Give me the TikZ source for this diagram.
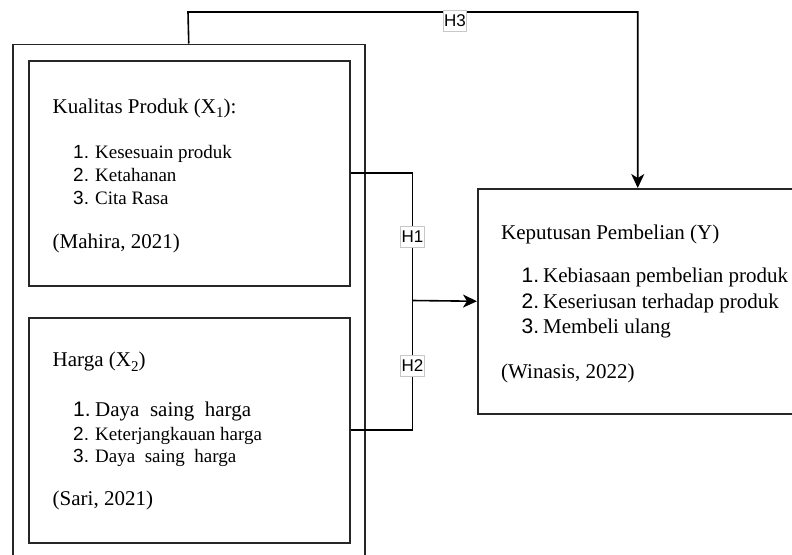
\documentclass[tikz,border=0pt]{standalone}
\usepackage{fontspec}
\setmainfont{Liberation Serif}
\newfontfamily\lsans{Liberation Sans}
\usetikzlibrary{arrows.meta}
\newcommand{\subx}[1]{\raisebox{-4.5pt}{\fontsize{15}{15}\selectfont #1}}
\tikzset{
  frame/.style={draw=black!85, line width=1.5pt, anchor=north west, inner sep=0pt, fill=none},
  conn/.style={draw=black, line width=1.6pt},
  arr/.style={conn, -{Stealth[length=14pt,width=13pt,inset=4pt]}},
  lbl/.style={draw=black!22, line width=0.7pt, fill=white, inner xsep=0.8pt, inner ysep=0pt, minimum height=21pt, minimum width=23pt, font=\lsans\fontsize{17}{19}\selectfont},
  head/.style={anchor=base west, inner sep=0pt, font=\fontsize{21}{25}\selectfont},
  itm/.style={anchor=base west, inner sep=0pt, font=\fontsize{19}{23}\selectfont},
  itmb/.style={anchor=base west, inner sep=0pt, font=\fontsize{21}{25}\selectfont},
  num/.style={anchor=base west, inner sep=0pt, font=\lsans\fontsize{19}{23}\selectfont},
  numb/.style={anchor=base west, inner sep=0pt, font=\lsans\fontsize{21}{25}\selectfont},
}
\begin{document}
\begin{tikzpicture}[x=1pt,y=-1pt]
\useasboundingbox (0,0) rectangle (792,554);
\clip (0,0) rectangle (792,554);
% boxes
\node[frame, minimum width=352pt, minimum height=540pt] (outer) at (12,43.5) {};
\node[frame, minimum width=321pt, minimum height=225pt] (b1) at (28,60) {};
\node[frame, minimum width=321pt, minimum height=225pt] (b2) at (28,317) {};
\node[frame, minimum width=320pt, minimum height=225pt] (Y) at (477,188) {};
% box 1 text
\node[head] (t1) at (52.5,113) {Kualitas Produk (X\subx{1}):};
\node[num] (n11) at (73,158) {1.};
\node[itm] (i11) at (95,158) {Kesesuain produk};
\node[num] (n12) at (73,181) {2.};
\node[itm] (i12) at (95,181) {Ketahanan};
\node[num] (n13) at (73,204) {3.};
\node[itm] (i13) at (95,204) {Cita Rasa};
\node[head] (r1) at (52.5,248) {(Mahira, 2021)};
% box 2 text
\node[head] (t2) at (52.5,366.5) {Harga (X\subx{2})};
\node[numb] (n21) at (73,416.5) {1.};
\node[itmb] (i21) at (95,416.5) {Daya\ \ saing\ \ harga};
\node[num] (n22) at (73,440) {2.};
\node[itm] (i22) at (95,440) {Keterjangkauan harga};
\node[num] (n23) at (73,462) {3.};
\node[itm] (i23) at (95,462) {Daya\ \ saing\ \ harga};
\node[head] (r2) at (52.5,505) {(Sari, 2021)};
% Y box text
\node[head] (ty) at (501,239) {Keputusan Pembelian (Y)};
\node[numb] (ny1) at (521.5,282.5) {1.};
\node[itmb] (iy1) at (543,282.5) {Kebiasaan pembelian produk};
\node[numb] (ny2) at (521.5,308) {2.};
\node[itmb] (iy2) at (543,308) {Keseriusan terhadap produk};
\node[numb] (ny3) at (521.5,333.5) {3.};
\node[itmb] (iy3) at (543,333.5) {Membeli ulang};
\node[head] (ry) at (501,378) {(Winasis, 2022)};
% connectors
\coordinate (h3s) at (188,12);
\coordinate (J) at (412.5,300.5);
\draw[arr] (outer.north) -- (h3s) -| (Y.north);
\draw[conn] (b1.east) -| (J);
\draw[conn] (b2.east) -| (J);
\draw[arr] (J) -- (Y.west);
% labels
\node[lbl] (H3) at (455,20.5) {H3};
\node[lbl] (H1) at (412.5,236.5) {H1};
\node[lbl] (H2) at (412.5,366) {H2};
\end{tikzpicture}
\end{document}
